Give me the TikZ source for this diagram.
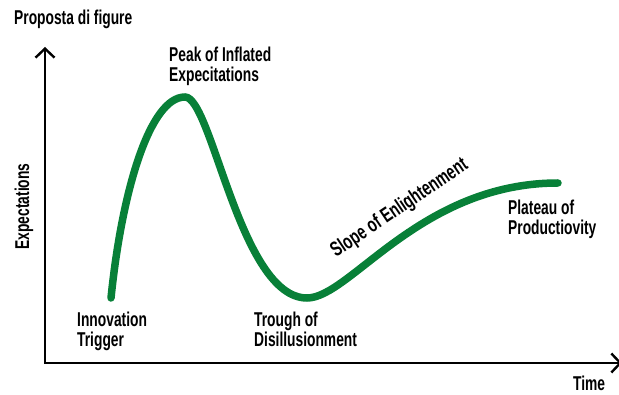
\documentclass[tikz,border=0pt]{standalone}
\usepackage{fontspec}
\setmainfont[FakeStretch=0.69]{Liberation Sans}
\usepackage{xcolor}
\usetikzlibrary{arrows.meta}

\definecolor{hypegreen}{RGB}{8,128,56}

\begin{document}
\begin{tikzpicture}[x=1pt, y=-1pt,
    axis/.style={line width=2.4pt, line join=miter, {Straight Barb[length=9pt, width=19pt, line width=2.4pt]}-{Straight Barb[length=9pt, width=19pt, line width=2.4pt]}},
    hype/.style={line width=7.5pt, draw=hypegreen, line cap=round},
    lbl/.style={font=\bfseries\fontsize{20}{20}\selectfont, align=left, inner sep=0pt}
  ]
    \useasboundingbox (0,0) rectangle (619,395);

    % axes
    \coordinate (origin) at (45,363);
    \coordinate (ytop) at (45,47);
    \coordinate (xend) at (622,363);
    \draw[axis] (ytop) -- (origin) -- (xend);

    % hype cycle
    \coordinate (trigger) at (111,298);
    \coordinate (peak) at (185,97);
    \coordinate (trough) at (307,298);
    \coordinate (plateau) at (558,183);
    \draw[hype] (trigger) .. controls (122,190) and (150,97) .. (peak)
        .. controls (212,97) and (240,298) .. (trough)
        .. controls (350,298) and (420,183) .. (plateau);

    \node[lbl, anchor=base west] (title) at (14,25) {Proposta di figure};
    \node[lbl, anchor=base, rotate=90] (ylabel) at (29,206.5) {Expectations};
    \node[lbl, anchor=base west] (xlabel) at (573,391) {Time};

    \node[lbl, anchor=north west] (peaklbl) at (169,47) {Peak of Inflated\\Expecitations};
    \node[lbl, anchor=north west] (triggerlbl) at (77,312) {Innovation\\Trigger};
    \node[lbl, anchor=north west] (troughlbl) at (254,312) {Trough of\\Disillusionment};
    \node[lbl, anchor=base west, rotate=34, scale=1.04] (slopelbl) at (336,258) {Slope of Enlightenment};
    \node[lbl, anchor=north west] (plateaulbl) at (508,199.5) {Plateau of\\Productiovity};
  \end{tikzpicture}
\end{document}
